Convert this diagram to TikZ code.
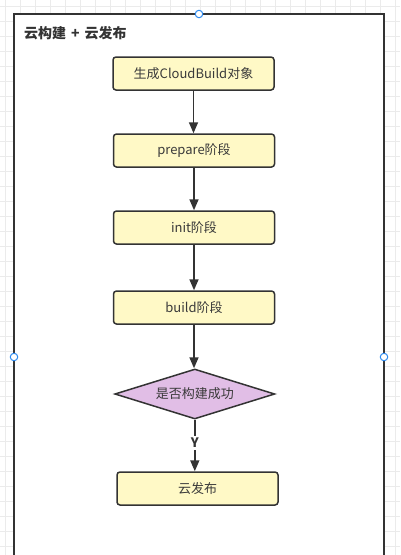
\documentclass[tikz,border=0pt]{standalone}
\usepackage{fontspec}
\setmainfont{Noto Sans CJK SC}
\usetikzlibrary{arrows.meta,shapes.geometric}
\definecolor{lineC}{HTML}{333333}
\definecolor{textC}{HTML}{3A3A3A}
\definecolor{boxFill}{HTML}{FFF9C6}
\definecolor{diaFill}{HTML}{E1BEE6}
\definecolor{gridC}{HTML}{EBEBEB}
\definecolor{handleC}{HTML}{2E8BF0}
\tikzset{
  stepbox/.style={draw=lineC, line width=1.5pt, fill=boxFill, rounded corners=3pt,
    minimum width=161pt, minimum height=33pt, inner sep=0pt,
    font=\fontsize{13}{15}\selectfont, text=textC},
  decision/.style={diamond, draw=lineC, line width=1.5pt, fill=diaFill, aspect=3.2,
    minimum width=160pt, minimum height=50pt, inner sep=0pt,
    font=\fontsize{13}{15}\selectfont, text=textC},
  flow/.style={draw=lineC, line width=1.6pt, -{Triangle[width=9pt,length=11pt]}},
  handle/.style={circle, draw=handleC, line width=1pt, fill=white, minimum size=7.5pt, inner sep=0pt},
}
\begin{document}
\begin{tikzpicture}[x=1pt,y=-1pt]
\useasboundingbox (0,0) rectangle (400,555);
\fill[white] (0,0) rectangle (400,555);
% grid
\foreach \i in {0,...,26} {\draw[gridC, line width=0.8pt] ({5.7+15*\i},0) -- ({5.7+15*\i},555);}
\foreach \j in {0,...,36} {\draw[gridC, line width=0.8pt] (0,{6+15*\j}) -- (400,{6+15*\j});}
% container
\draw[lineC, line width=2pt, fill=white] (14,565) -- (14,14) -- (384,14) -- (384,565);
\node[anchor=west, font=\bfseries\fontsize{14}{16}\selectfont, text=lineC, inner sep=0pt] (title) at (24,33) {云构建\hspace{5pt}+\hspace{5pt}云发布};
% nodes
\node[stepbox] (b1) at (193.5,73.5) {生成CloudBuild对象};
\node[stepbox] (b2) at (194,150.5) {prepare阶段};
\node[stepbox] (b3) at (194,227.5) {init阶段};
\node[stepbox] (b4) at (194,307.5) {build阶段};
\node[decision] (d) at (194.8,394) {是否构建成功};
\node[stepbox] (b6) at (197.5,488.5) {云发布};
% connectors
\draw[flow] (b1) -- (b1 |- b2.north);
\draw[flow] (b2) -- (b2 |- b3.north);
\draw[flow] (b3) -- (b3 |- b4.north);
\draw[flow] (b4) -- (b4 |- d.north);
\draw[flow] (d.south) -- node[pos=0.45, fill=white, inner sep=2pt, font=\bfseries\fontsize{13}{15}\selectfont, text=lineC] (ylab) {Y} (d.south |- b6.north);
% selection handles
\node[handle] (h1) at (199,14) {};
\node[handle] (h2) at (14,357) {};
\node[handle] (h3) at (384,357) {};
\end{tikzpicture}
\end{document}
